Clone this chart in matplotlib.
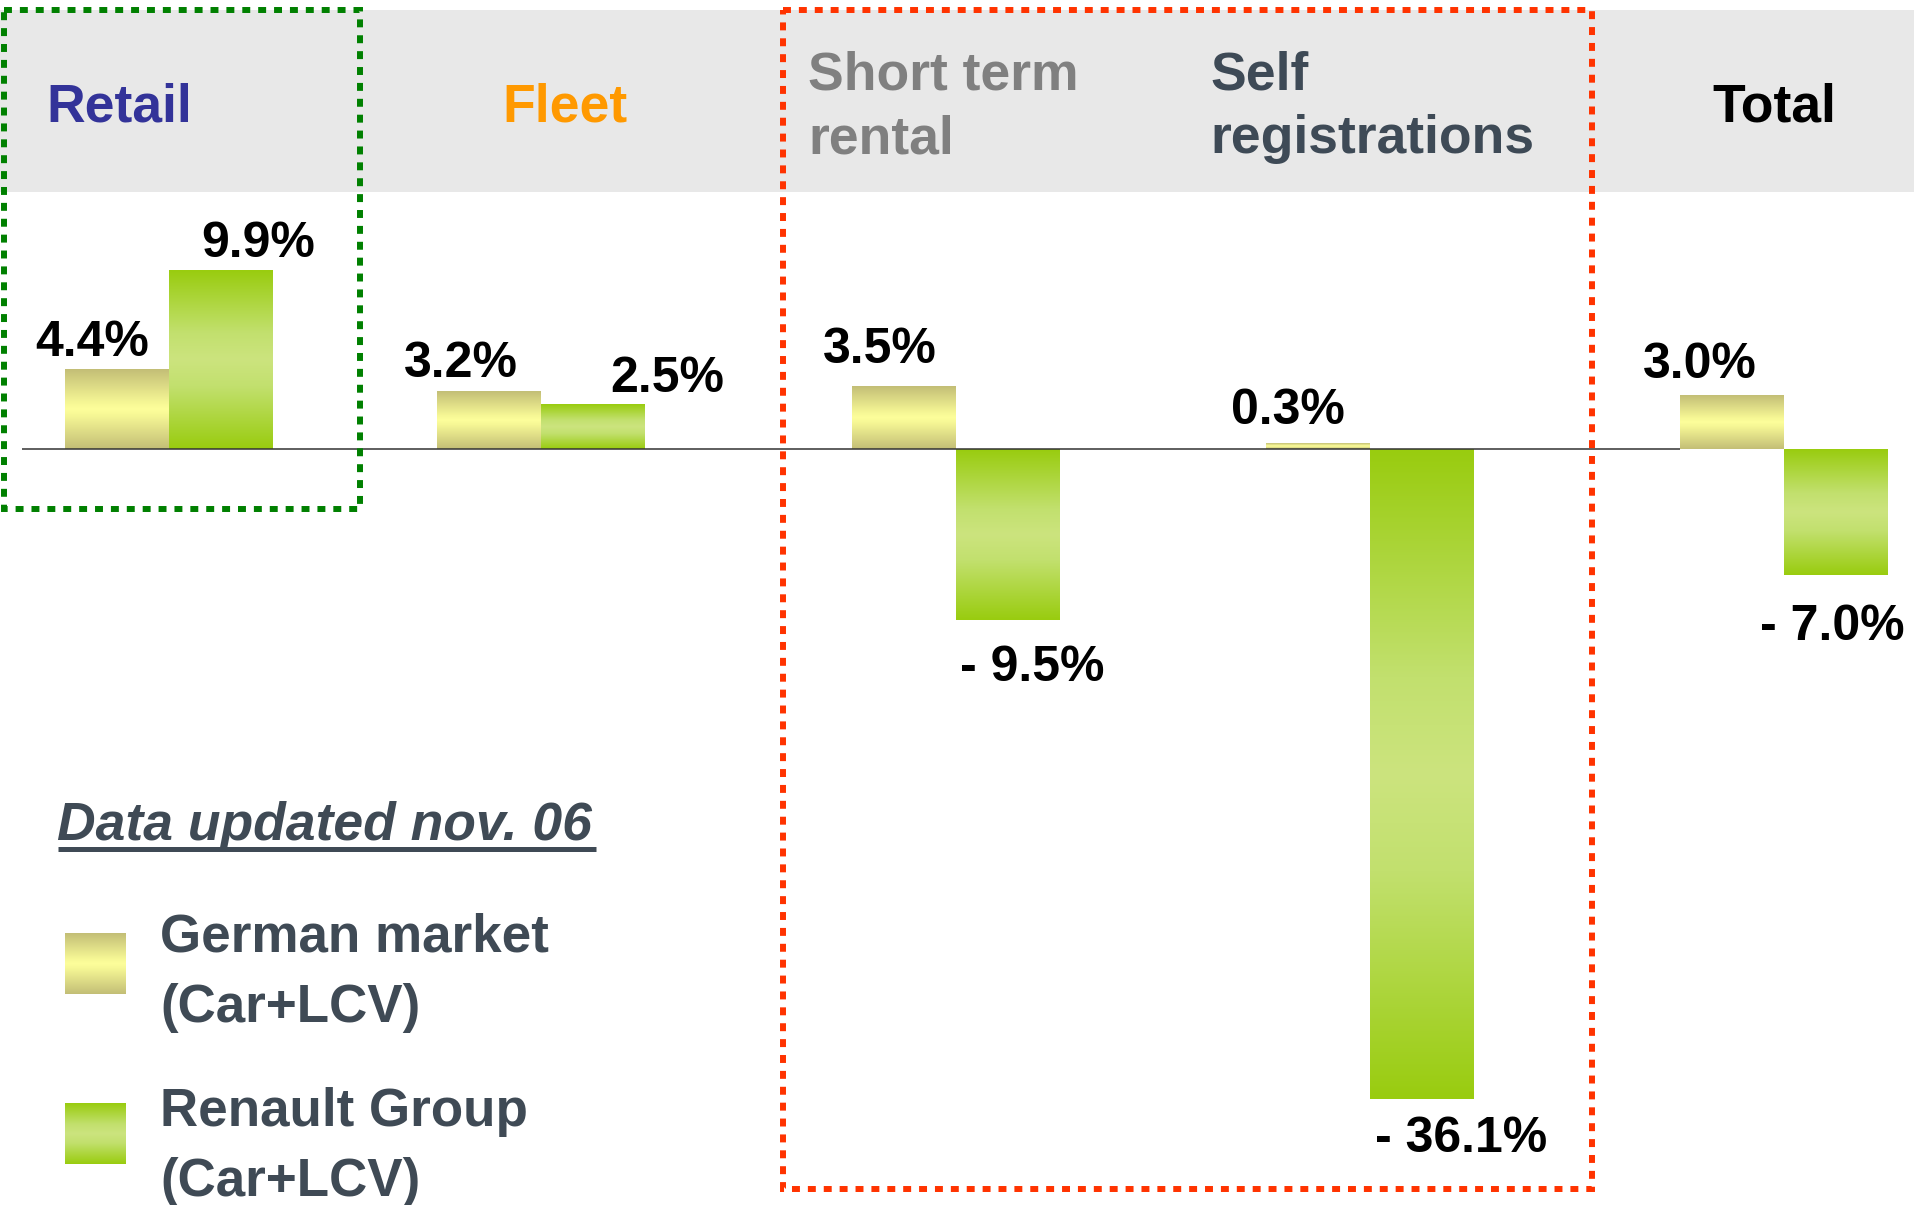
import numpy as np
import matplotlib.pyplot as plt
from matplotlib.colors import LinearSegmentedColormap
from matplotlib.patches import Rectangle

# market segments and year-on-year change (%)
segments = ['Retail', 'Fleet', 'Short term\nrental', 'Self\nregistrations', 'Total']
segment_colors = ['#333399', '#FF9900', '#808080', '#3E4A56', '#000000']
german_market = [4.4, 3.2, 3.5, 0.3, 3.0]
renault_group = [9.9, 2.5, -9.5, -36.1, -7.0]
series_names = [['German market', '(Car+LCV)'], ['Renault Group', '(Car+LCV)']]
note = 'Data updated nov. 06'

plt.rcParams['font.family'] = ['Liberation Sans', 'DejaVu Sans']

W, H = 1915, 1205
fig = plt.figure(figsize=(W / 100, H / 100), dpi=100)
fig.patch.set_facecolor('white')

# layout (pixels)
group_x = np.array([169, 541, 956, 1370, 1784])
bar_w = 104
px_per_pct = 18.0
base_px = 449
header_x = [46, 502, 808, 1210, 1712]
label_dx = [[-25, -28, -24, -30, -32], [37, 74, 24, 39, -4]]
label_dy = [[14, 14, 23, 20, 17], [14, 12, 61, 53, 65]]

german_cmap = LinearSegmentedColormap.from_list(
    'german', [(0, '#C3BE76'), (0.42, '#F6F795'), (0.5, '#FDFE9B'),
               (0.58, '#F6F795'), (1, '#C3BE76')])
renault_cmap = LinearSegmentedColormap.from_list(
    'renault', [(0, '#99CC0F'), (0.35, '#C2E06E'), (0.5, '#CCE47E'),
                (0.65, '#C2E06E'), (1, '#99CC0F')])
grad = np.linspace(0, 1, 256).reshape(-1, 1)


def pixel_axes(z):
    a = fig.add_axes([0, 0, 1, 1], zorder=z)
    a.set_xlim(0, W)
    a.set_ylim(H, 0)
    a.axis('off')
    a.patch.set_visible(False)
    return a


back = pixel_axes(0)
back.add_patch(Rectangle((0, 10), W, 182, facecolor='#E8E8E8', lw=0))

# bars
ax = fig.add_axes([0, 0, 1, 1], zorder=1)
ax.axis('off')
ax.patch.set_visible(False)
ylim = (-(H - base_px) / px_per_pct, base_px / px_per_pct)

for s, (vals, off, cmap) in enumerate([(german_market, -bar_w / 2, german_cmap),
                                        (renault_group, bar_w / 2, renault_cmap)]):
    bars = ax.bar(group_x + off, vals, bar_w, color='none', lw=0)
    for i, (b, v) in enumerate(zip(bars, vals)):
        x0, y0 = b.get_xy()
        y1 = y0 + b.get_height()
        ax.imshow(grad, extent=(x0, x0 + b.get_width(), min(y0, y1), max(y0, y1)),
                  cmap=cmap, aspect='auto', interpolation='bilinear', zorder=2)
        if v >= 0:
            txt = '%.1f%%' % v
            dy = label_dy[s][i]
        else:
            txt = '- %.1f%%' % abs(v)
            dy = -label_dy[s][i]
        ax.annotate(txt, xy=(x0 + bar_w / 2, v), xytext=(label_dx[s][i] * 0.72, dy * 0.72),
                    textcoords='offset points', ha='center', va='baseline',
                    fontsize=36, fontweight='bold', color='black', zorder=4)

ax.hlines(0, 22, 1680, color='#333333', lw=1.1, zorder=3)
ax.set_xlim(0, W)
ax.set_ylim(*ylim)

front = pixel_axes(2)

# segment headers
for name, col, x in zip(segments, segment_colors, header_x):
    lines = name.split('\n')
    y0 = 122 if len(lines) == 1 else 89
    for k, line in enumerate(lines):
        front.text(x, y0 + 64 * k, line, ha='left', va='baseline', fontsize=38.5,
                   fontweight='bold', color=col)

# highlight boxes
dots = (0, (1.33, 1.33))
front.add_patch(Rectangle((4.5, 10), 355.5, 499, fill=False, edgecolor='#008000',
                          lw=4.3, linestyle=dots))
front.add_patch(Rectangle((783.5, 10), 808.5, 1179, fill=False, edgecolor='#FF3300',
                          lw=4.3, linestyle=dots))

# note and legend
front.text(57, 840, note, ha='left', va='baseline', fontsize=38.5, fontweight='bold',
           fontstyle='italic', color='#3F4A55')
front.plot([58, 596], [848.5, 848.5], color='#3F4A55', lw=3.6, solid_capstyle='butt')

for (lines, cmap, y_sw, y_txt) in [(series_names[0], german_cmap, 933, 952),
                                   (series_names[1], renault_cmap, 1103, 1126)]:
    front.imshow(grad, extent=(65, 126, y_sw + 61, y_sw), cmap=cmap, aspect='auto',
                 interpolation='bilinear')
    for k, line in enumerate(lines):
        front.text(160, y_txt + 70 * k, line, ha='left', va='baseline', fontsize=38.2,
                   fontweight='bold', color='#3F4A55')

front.set_xlim(0, W)
front.set_ylim(H, 0)

fig.savefig('out.png', dpi=100)
